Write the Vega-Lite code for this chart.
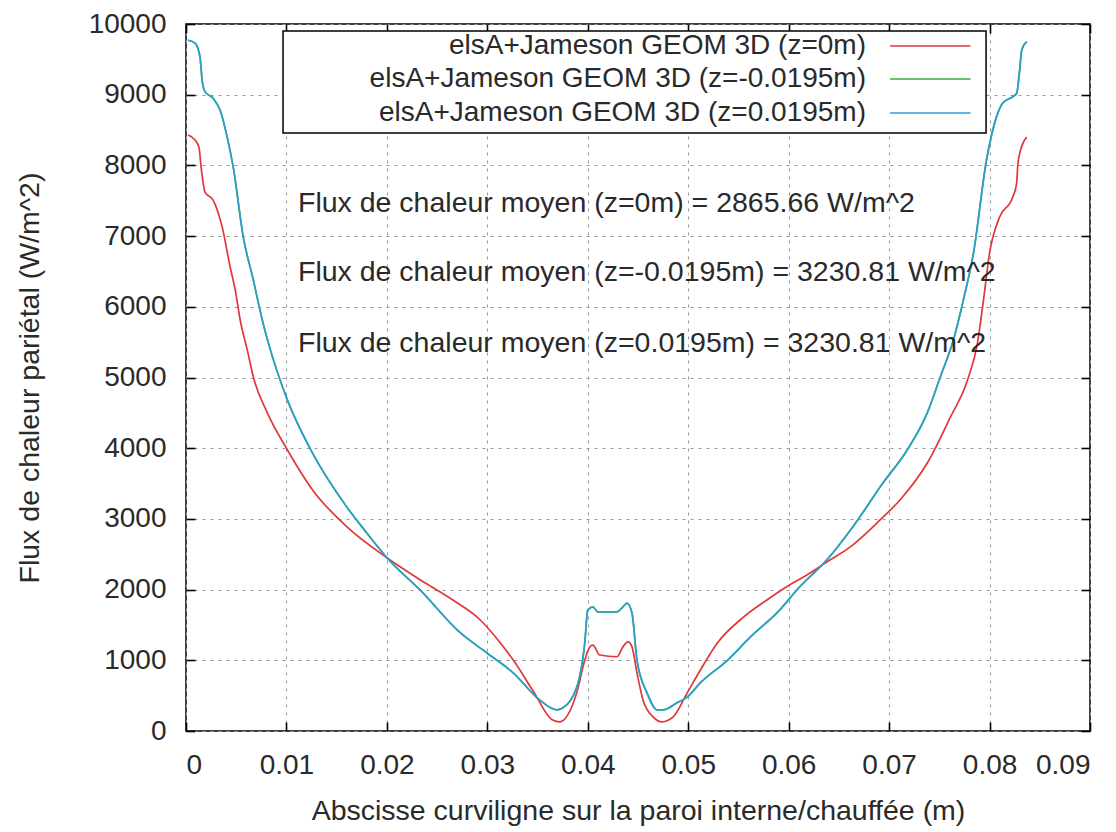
{
  "$schema": "https://vega.github.io/schema/vega-lite/v6.json",
  "width": 904,
  "height": 707,
  "autosize": {"type": "none"},
  "padding": {"left": 186, "top": 24, "right": 26, "bottom": 101},
  "background": "white",
  "config": {
    "view": {"stroke": "#000", "strokeWidth": 1.5},
    "font": "Liberation Sans",
    "axis": {
      "labelFont": "Liberation Sans",
      "labelFontSize": 28,
      "labelColor": "#2a2a2a",
      "titleFont": "Liberation Sans",
      "titleFontSize": 28.5,
      "titleFontWeight": "normal",
      "titleColor": "#2a2a2a",
      "domain": false,
      "ticks": true,
      "tickColor": "#000",
      "tickWidth": 1.6,
      "tickSize": -9,
      "gridColor": "#999",
      "gridDash": [3, 5],
      "gridWidth": 1,
      "gridOpacity": 1
    },
    "text": {"font": "Liberation Sans", "fontSize": 28.5, "color": "#2a2a2a"}
  },
  "datasets": {
    "curves": [
      {"serie": "z=0m", "s": 0.0002, "q": 8430},
      {"serie": "z=0m", "s": 0.0009, "q": 8360},
      {"serie": "z=0m", "s": 0.0013, "q": 8250},
      {"serie": "z=0m", "s": 0.0015, "q": 7980},
      {"serie": "z=0m", "s": 0.0019, "q": 7620},
      {"serie": "z=0m", "s": 0.0027, "q": 7510},
      {"serie": "z=0m", "s": 0.0036, "q": 7130},
      {"serie": "z=0m", "s": 0.0044, "q": 6560},
      {"serie": "z=0m", "s": 0.0049, "q": 6240},
      {"serie": "z=0m", "s": 0.0054, "q": 5810},
      {"serie": "z=0m", "s": 0.0061, "q": 5390},
      {"serie": "z=0m", "s": 0.0067, "q": 5010},
      {"serie": "z=0m", "s": 0.0081, "q": 4500},
      {"serie": "z=0m", "s": 0.0101, "q": 3975},
      {"serie": "z=0m", "s": 0.0126, "q": 3410},
      {"serie": "z=0m", "s": 0.0160, "q": 2890},
      {"serie": "z=0m", "s": 0.0200, "q": 2450},
      {"serie": "z=0m", "s": 0.0233, "q": 2140},
      {"serie": "z=0m", "s": 0.0266, "q": 1850},
      {"serie": "z=0m", "s": 0.0293, "q": 1570},
      {"serie": "z=0m", "s": 0.0313, "q": 1245},
      {"serie": "z=0m", "s": 0.0326, "q": 1000},
      {"serie": "z=0m", "s": 0.0345, "q": 580},
      {"serie": "z=0m", "s": 0.0365, "q": 155},
      {"serie": "z=0m", "s": 0.0372, "q": 130},
      {"serie": "z=0m", "s": 0.0389, "q": 540},
      {"serie": "z=0m", "s": 0.0397, "q": 1000},
      {"serie": "z=0m", "s": 0.0402, "q": 1190},
      {"serie": "z=0m", "s": 0.0405, "q": 1215},
      {"serie": "z=0m", "s": 0.0412, "q": 1075},
      {"serie": "z=0m", "s": 0.0429, "q": 1050},
      {"serie": "z=0m", "s": 0.0435, "q": 1190},
      {"serie": "z=0m", "s": 0.0440, "q": 1260},
      {"serie": "z=0m", "s": 0.0444, "q": 1190},
      {"serie": "z=0m", "s": 0.0449, "q": 820},
      {"serie": "z=0m", "s": 0.0455, "q": 440},
      {"serie": "z=0m", "s": 0.0465, "q": 200},
      {"serie": "z=0m", "s": 0.0474, "q": 130},
      {"serie": "z=0m", "s": 0.0485, "q": 200},
      {"serie": "z=0m", "s": 0.0499, "q": 540},
      {"serie": "z=0m", "s": 0.0512, "q": 860},
      {"serie": "z=0m", "s": 0.0529, "q": 1245},
      {"serie": "z=0m", "s": 0.0555, "q": 1610},
      {"serie": "z=0m", "s": 0.0578, "q": 1850},
      {"serie": "z=0m", "s": 0.0598, "q": 2040},
      {"serie": "z=0m", "s": 0.0621, "q": 2230},
      {"serie": "z=0m", "s": 0.0638, "q": 2390},
      {"serie": "z=0m", "s": 0.0661, "q": 2600},
      {"serie": "z=0m", "s": 0.0691, "q": 2985},
      {"serie": "z=0m", "s": 0.0711, "q": 3270},
      {"serie": "z=0m", "s": 0.0738, "q": 3790},
      {"serie": "z=0m", "s": 0.0761, "q": 4440},
      {"serie": "z=0m", "s": 0.0778, "q": 4960},
      {"serie": "z=0m", "s": 0.0788, "q": 5490},
      {"serie": "z=0m", "s": 0.0794, "q": 6100},
      {"serie": "z=0m", "s": 0.0800, "q": 6760},
      {"serie": "z=0m", "s": 0.0810, "q": 7270},
      {"serie": "z=0m", "s": 0.0823, "q": 7550},
      {"serie": "z=0m", "s": 0.0827, "q": 7750},
      {"serie": "z=0m", "s": 0.0828, "q": 7980},
      {"serie": "z=0m", "s": 0.0830, "q": 8170},
      {"serie": "z=0m", "s": 0.0837, "q": 8400},

      {"serie": "z=-0.0195m", "s": 0.0002, "q": 9770},
      {"serie": "z=-0.0195m", "s": 0.0009, "q": 9730},
      {"serie": "z=-0.0195m", "s": 0.0014, "q": 9530},
      {"serie": "z=-0.0195m", "s": 0.0016, "q": 9210},
      {"serie": "z=-0.0195m", "s": 0.0019, "q": 9040},
      {"serie": "z=-0.0195m", "s": 0.0027, "q": 8950},
      {"serie": "z=-0.0195m", "s": 0.0034, "q": 8780},
      {"serie": "z=-0.0195m", "s": 0.0041, "q": 8400},
      {"serie": "z=-0.0195m", "s": 0.0047, "q": 7980},
      {"serie": "z=-0.0195m", "s": 0.0057, "q": 6990},
      {"serie": "z=-0.0195m", "s": 0.0067, "q": 6380},
      {"serie": "z=-0.0195m", "s": 0.0076, "q": 5810},
      {"serie": "z=-0.0195m", "s": 0.0082, "q": 5490},
      {"serie": "z=-0.0195m", "s": 0.0101, "q": 4680},
      {"serie": "z=-0.0195m", "s": 0.0126, "q": 3930},
      {"serie": "z=-0.0195m", "s": 0.0160, "q": 3170},
      {"serie": "z=-0.0195m", "s": 0.0180, "q": 2800},
      {"serie": "z=-0.0195m", "s": 0.0200, "q": 2450},
      {"serie": "z=-0.0195m", "s": 0.0233, "q": 1995},
      {"serie": "z=-0.0195m", "s": 0.0273, "q": 1390},
      {"serie": "z=-0.0195m", "s": 0.0300, "q": 1100},
      {"serie": "z=-0.0195m", "s": 0.0326, "q": 820},
      {"serie": "z=-0.0195m", "s": 0.0352, "q": 440},
      {"serie": "z=-0.0195m", "s": 0.0369, "q": 300},
      {"serie": "z=-0.0195m", "s": 0.0375, "q": 325},
      {"serie": "z=-0.0195m", "s": 0.0389, "q": 620},
      {"serie": "z=-0.0195m", "s": 0.0397, "q": 1245},
      {"serie": "z=-0.0195m", "s": 0.0400, "q": 1710},
      {"serie": "z=-0.0195m", "s": 0.0405, "q": 1755},
      {"serie": "z=-0.0195m", "s": 0.0410, "q": 1685},
      {"serie": "z=-0.0195m", "s": 0.0429, "q": 1685},
      {"serie": "z=-0.0195m", "s": 0.0435, "q": 1755},
      {"serie": "z=-0.0195m", "s": 0.0439, "q": 1810},
      {"serie": "z=-0.0195m", "s": 0.0444, "q": 1670},
      {"serie": "z=-0.0195m", "s": 0.0449, "q": 1000},
      {"serie": "z=-0.0195m", "s": 0.0459, "q": 540},
      {"serie": "z=-0.0195m", "s": 0.0469, "q": 300},
      {"serie": "z=-0.0195m", "s": 0.0475, "q": 300},
      {"serie": "z=-0.0195m", "s": 0.0489, "q": 400},
      {"serie": "z=-0.0195m", "s": 0.0499, "q": 480},
      {"serie": "z=-0.0195m", "s": 0.0512, "q": 680},
      {"serie": "z=-0.0195m", "s": 0.0539, "q": 1000},
      {"serie": "z=-0.0195m", "s": 0.0562, "q": 1330},
      {"serie": "z=-0.0195m", "s": 0.0591, "q": 1710},
      {"serie": "z=-0.0195m", "s": 0.0611, "q": 2040},
      {"serie": "z=-0.0195m", "s": 0.0638, "q": 2420},
      {"serie": "z=-0.0195m", "s": 0.0664, "q": 2890},
      {"serie": "z=-0.0195m", "s": 0.0694, "q": 3510},
      {"serie": "z=-0.0195m", "s": 0.0718, "q": 3975},
      {"serie": "z=-0.0195m", "s": 0.0738, "q": 4500},
      {"serie": "z=-0.0195m", "s": 0.0751, "q": 5010},
      {"serie": "z=-0.0195m", "s": 0.0764, "q": 5530},
      {"serie": "z=-0.0195m", "s": 0.0774, "q": 6100},
      {"serie": "z=-0.0195m", "s": 0.0784, "q": 6760},
      {"serie": "z=-0.0195m", "s": 0.0797, "q": 8080},
      {"serie": "z=-0.0195m", "s": 0.0807, "q": 8690},
      {"serie": "z=-0.0195m", "s": 0.0813, "q": 8880},
      {"serie": "z=-0.0195m", "s": 0.0823, "q": 8970},
      {"serie": "z=-0.0195m", "s": 0.0827, "q": 9020},
      {"serie": "z=-0.0195m", "s": 0.0830, "q": 9350},
      {"serie": "z=-0.0195m", "s": 0.0832, "q": 9630},
      {"serie": "z=-0.0195m", "s": 0.0837, "q": 9750},

      {"serie": "z=0.0195m", "s": 0.0002, "q": 9770},
      {"serie": "z=0.0195m", "s": 0.0009, "q": 9730},
      {"serie": "z=0.0195m", "s": 0.0014, "q": 9530},
      {"serie": "z=0.0195m", "s": 0.0016, "q": 9210},
      {"serie": "z=0.0195m", "s": 0.0019, "q": 9040},
      {"serie": "z=0.0195m", "s": 0.0027, "q": 8950},
      {"serie": "z=0.0195m", "s": 0.0034, "q": 8780},
      {"serie": "z=0.0195m", "s": 0.0041, "q": 8400},
      {"serie": "z=0.0195m", "s": 0.0047, "q": 7980},
      {"serie": "z=0.0195m", "s": 0.0057, "q": 6990},
      {"serie": "z=0.0195m", "s": 0.0067, "q": 6380},
      {"serie": "z=0.0195m", "s": 0.0076, "q": 5810},
      {"serie": "z=0.0195m", "s": 0.0082, "q": 5490},
      {"serie": "z=0.0195m", "s": 0.0101, "q": 4680},
      {"serie": "z=0.0195m", "s": 0.0126, "q": 3930},
      {"serie": "z=0.0195m", "s": 0.0160, "q": 3170},
      {"serie": "z=0.0195m", "s": 0.0180, "q": 2800},
      {"serie": "z=0.0195m", "s": 0.0200, "q": 2450},
      {"serie": "z=0.0195m", "s": 0.0233, "q": 1995},
      {"serie": "z=0.0195m", "s": 0.0273, "q": 1390},
      {"serie": "z=0.0195m", "s": 0.0300, "q": 1100},
      {"serie": "z=0.0195m", "s": 0.0326, "q": 820},
      {"serie": "z=0.0195m", "s": 0.0352, "q": 440},
      {"serie": "z=0.0195m", "s": 0.0369, "q": 300},
      {"serie": "z=0.0195m", "s": 0.0375, "q": 325},
      {"serie": "z=0.0195m", "s": 0.0389, "q": 620},
      {"serie": "z=0.0195m", "s": 0.0397, "q": 1245},
      {"serie": "z=0.0195m", "s": 0.0400, "q": 1710},
      {"serie": "z=0.0195m", "s": 0.0405, "q": 1755},
      {"serie": "z=0.0195m", "s": 0.0410, "q": 1685},
      {"serie": "z=0.0195m", "s": 0.0429, "q": 1685},
      {"serie": "z=0.0195m", "s": 0.0435, "q": 1755},
      {"serie": "z=0.0195m", "s": 0.0439, "q": 1810},
      {"serie": "z=0.0195m", "s": 0.0444, "q": 1670},
      {"serie": "z=0.0195m", "s": 0.0449, "q": 1000},
      {"serie": "z=0.0195m", "s": 0.0459, "q": 540},
      {"serie": "z=0.0195m", "s": 0.0469, "q": 300},
      {"serie": "z=0.0195m", "s": 0.0475, "q": 300},
      {"serie": "z=0.0195m", "s": 0.0489, "q": 400},
      {"serie": "z=0.0195m", "s": 0.0499, "q": 480},
      {"serie": "z=0.0195m", "s": 0.0512, "q": 680},
      {"serie": "z=0.0195m", "s": 0.0539, "q": 1000},
      {"serie": "z=0.0195m", "s": 0.0562, "q": 1330},
      {"serie": "z=0.0195m", "s": 0.0591, "q": 1710},
      {"serie": "z=0.0195m", "s": 0.0611, "q": 2040},
      {"serie": "z=0.0195m", "s": 0.0638, "q": 2420},
      {"serie": "z=0.0195m", "s": 0.0664, "q": 2890},
      {"serie": "z=0.0195m", "s": 0.0694, "q": 3510},
      {"serie": "z=0.0195m", "s": 0.0718, "q": 3975},
      {"serie": "z=0.0195m", "s": 0.0738, "q": 4500},
      {"serie": "z=0.0195m", "s": 0.0751, "q": 5010},
      {"serie": "z=0.0195m", "s": 0.0764, "q": 5530},
      {"serie": "z=0.0195m", "s": 0.0774, "q": 6100},
      {"serie": "z=0.0195m", "s": 0.0784, "q": 6760},
      {"serie": "z=0.0195m", "s": 0.0797, "q": 8080},
      {"serie": "z=0.0195m", "s": 0.0807, "q": 8690},
      {"serie": "z=0.0195m", "s": 0.0813, "q": 8880},
      {"serie": "z=0.0195m", "s": 0.0823, "q": 8970},
      {"serie": "z=0.0195m", "s": 0.0827, "q": 9020},
      {"serie": "z=0.0195m", "s": 0.0830, "q": 9350},
      {"serie": "z=0.0195m", "s": 0.0832, "q": 9630},
      {"serie": "z=0.0195m", "s": 0.0837, "q": 9750}
    ]
  },
  "layer": [
    {
      "data": {"name": "curves"},
      "transform": [{"filter": "datum.serie !== 'z=0.0195m'"}],
      "mark": {"type": "line", "strokeWidth": 1.7, "interpolate": "monotone"},
      "encoding": {
        "x": {
          "field": "s", "type": "quantitative",
          "scale": {"domain": [0, 0.09], "nice": false, "zero": false},
          "axis": {
            "orient": "bottom",
            "title": "Abscisse curviligne sur la paroi interne/chauffée (m)",
            "values": [0, 0.01, 0.02, 0.03, 0.04, 0.05, 0.06, 0.07, 0.08, 0.09],
            "labelExpr": "datum.value == 0 ? '0' : format(datum.value, '.2f')",
            "grid": true,
            "labelPadding": 29,
            "titlePadding": 17
          }
        },
        "y": {
          "field": "q", "type": "quantitative",
          "scale": {"domain": [0, 10000], "nice": false},
          "axis": {
            "orient": "left",
            "title": "Flux de chaleur pariétal (W/m^2)",
            "values": [0, 1000, 2000, 3000, 4000, 5000, 6000, 7000, 8000, 9000, 10000],
            "format": "d",
            "grid": true,
            "labelPadding": 29,
            "titlePadding": 44
          }
        },
        "color": {
          "field": "serie", "type": "nominal",
          "scale": {"domain": ["z=0m", "z=-0.0195m", "z=0.0195m"], "range": ["#e0373a", "#3aaa3a", "#2c9fd2"]},
          "legend": null
        }
      }
    },
    {
      "data": {"name": "curves"},
      "transform": [{"filter": "datum.serie === 'z=0.0195m'"}],
      "mark": {"type": "line", "strokeWidth": 1.7, "interpolate": "monotone"},
      "encoding": {
        "x": {
          "field": "s", "type": "quantitative",
          "axis": {"orient": "top", "labels": false, "title": null, "grid": false,
            "values": [0, 0.01, 0.02, 0.03, 0.04, 0.05, 0.06, 0.07, 0.08, 0.09]}
        },
        "y": {
          "field": "q", "type": "quantitative",
          "axis": {"orient": "right", "labels": false, "title": null, "grid": false,
            "values": [0, 1000, 2000, 3000, 4000, 5000, 6000, 7000, 8000, 9000, 10000]}
        },
        "color": {"field": "serie", "type": "nominal", "legend": null}
      }
    },
    {
      "data": {"values": [{}]},
      "mark": {"type": "rect", "fill": "white", "stroke": "#000", "strokeWidth": 1.5},
      "encoding": {
        "x": {"datum": 0.00966, "type": "quantitative", "axis": null},
        "x2": {"datum": 0.07965},
        "y": {"datum": 9901, "type": "quantitative", "axis": null},
        "y2": {"datum": 8458}
      }
    },
    {
      "data": {"values": [{}]},
      "mark": {"type": "text", "align": "right", "baseline": "middle", "fontSize": 28},
      "encoding": {
        "x": {"datum": 0.0677, "type": "quantitative", "axis": null},
        "y": {"datum": 9689, "type": "quantitative", "axis": null},
        "text": {"value": "elsA+Jameson GEOM 3D (z=0m)"}
      }
    },
    {
      "data": {"values": [{}]},
      "mark": {"type": "text", "align": "right", "baseline": "middle", "fontSize": 28},
      "encoding": {
        "x": {"datum": 0.0677, "type": "quantitative", "axis": null},
        "y": {"datum": 9222, "type": "quantitative", "axis": null},
        "text": {"value": "elsA+Jameson GEOM 3D (z=-0.0195m)"}
      }
    },
    {
      "data": {"values": [{}]},
      "mark": {"type": "text", "align": "right", "baseline": "middle", "fontSize": 28},
      "encoding": {
        "x": {"datum": 0.0677, "type": "quantitative", "axis": null},
        "y": {"datum": 8741, "type": "quantitative", "axis": null},
        "text": {"value": "elsA+Jameson GEOM 3D (z=0.0195m)"}
      }
    },
    {
      "data": {"values": [{}]},
      "mark": {"type": "rule", "strokeWidth": 1.7, "color": "#e0373a"},
      "encoding": {
        "x": {"datum": 0.0701, "type": "quantitative", "axis": null},
        "x2": {"datum": 0.0781},
        "y": {"datum": 9689, "type": "quantitative", "axis": null}
      }
    },
    {
      "data": {"values": [{}]},
      "mark": {"type": "rule", "strokeWidth": 1.7, "color": "#3aaa3a"},
      "encoding": {
        "x": {"datum": 0.0701, "type": "quantitative", "axis": null},
        "x2": {"datum": 0.0781},
        "y": {"datum": 9222, "type": "quantitative", "axis": null}
      }
    },
    {
      "data": {"values": [{}]},
      "mark": {"type": "rule", "strokeWidth": 1.7, "color": "#2c9fd2"},
      "encoding": {
        "x": {"datum": 0.0701, "type": "quantitative", "axis": null},
        "x2": {"datum": 0.0781},
        "y": {"datum": 8741, "type": "quantitative", "axis": null}
      }
    },
    {
      "data": {"values": [{}]},
      "mark": {"type": "text", "align": "left", "baseline": "middle"},
      "encoding": {
        "x": {"datum": 0.01115, "type": "quantitative", "axis": null},
        "y": {"datum": 7468, "type": "quantitative", "axis": null},
        "text": {"value": "Flux de chaleur moyen (z=0m) = 2865.66 W/m^2"}
      }
    },
    {
      "data": {"values": [{}]},
      "mark": {"type": "text", "align": "left", "baseline": "middle"},
      "encoding": {
        "x": {"datum": 0.01115, "type": "quantitative", "axis": null},
        "y": {"datum": 6492, "type": "quantitative", "axis": null},
        "text": {"value": "Flux de chaleur moyen (z=-0.0195m) = 3230.81 W/m^2"}
      }
    },
    {
      "data": {"values": [{}]},
      "mark": {"type": "text", "align": "left", "baseline": "middle"},
      "encoding": {
        "x": {"datum": 0.01115, "type": "quantitative", "axis": null},
        "y": {"datum": 5488, "type": "quantitative", "axis": null},
        "text": {"value": "Flux de chaleur moyen (z=0.0195m) = 3230.81 W/m^2"}
      }
    }
  ]
}
